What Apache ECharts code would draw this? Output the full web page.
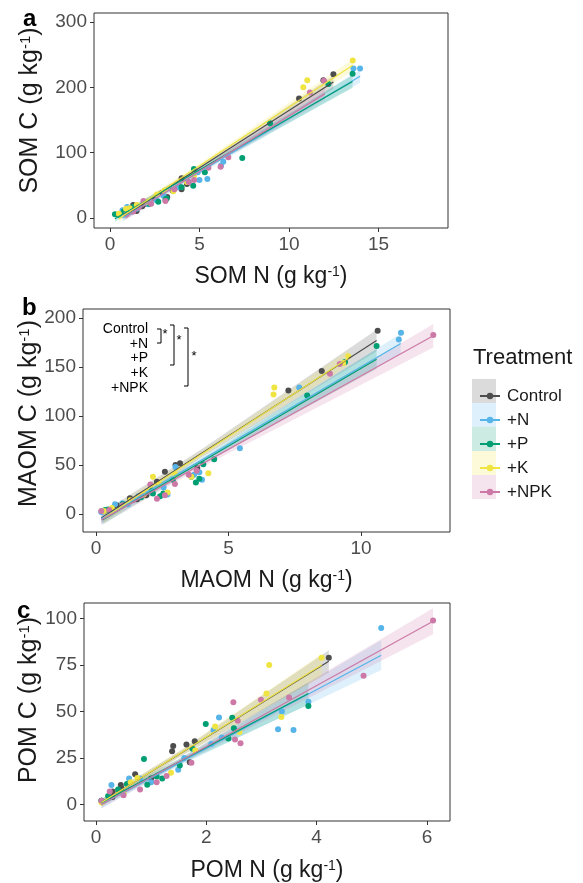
<!DOCTYPE html>
<html><head><meta charset="utf-8">
<script src="https://cdn.jsdelivr.net/npm/echarts@6/dist/echarts.min.js"></script>
<style>html,body{margin:0;padding:0;background:#fff}#c{width:583px;height:883px}</style>
</head><body><div id="c"></div>
<script>
// ---------------- DATA ----------------
const treatments = ['Control', '+N', '+P', '+K', '+NPK'];

// Panel a: SOM N (x) vs SOM C (y)
const somControl = [[0.8,8],[0.93,7],[1.3,20],[1.49,10.7],[1.8,18],[2.0,22],[2.5,30],[2.9,38],[3.2,32],[3.5,42],[3.9,47],[4.0,61],[4.0,44],[4.3,52],[10.56,183],[11.92,211],[12.48,220]];
const somN = [[0.7,12],[0.96,17],[1.2,10],[1.5,14],[2.14,21],[2.6,27],[3.0,34],[3.8,47],[4.4,55],[4.9,70],[5.0,58],[5.44,59.7],[6.2,80],[6.33,86],[13.6,229],[13.97,229]];
const somP = [[0.28,5.6],[0.5,5],[0.77,10],[1.1,12],[1.3,17],[2.2,22],[2.7,25],[3.1,28],[3.17,30],[4.0,47],[4.65,49.5],[4.69,75],[5.3,70],[7.39,91.8],[8.94,145],[12.2,205],[13.55,221]];
const somK = [[0.5,6.6],[0.9,14],[1.1,15],[1.5,20],[2.0,24],[2.62,36],[3.05,42],[3.54,41],[4.3,55],[4.7,65],[10.8,200],[11.02,211],[13.56,241]];
const somNPK = [[0.9,5],[1.3,10],[1.6,16],[1.87,26],[2.3,22],[3.1,26],[3.6,44],[4.4,55],[4.7,58],[5.5,77],[6.18,78.5],[6.61,93],[11.17,192],[11.95,210]];
// fitted line per treatment: [xStart, yStart, xEnd, yEnd]
const somLines = [[0.8,3,12.48,208],[0.7,0,13.97,217],[0.28,-1,13.55,209],[0.5,-1,13.56,234],[0.9,2,12.0,190]];
// confidence band: [xNarrow, halfWidthStart, halfWidthNarrow, halfWidthEnd]
const somBands = [[5,6,3,10],[5,5,3,10],[5,5,3,10],[5,5,3,9],[5,5,3,9]];

// Panel b: MAOM N vs MAOM C
const maomControl = [[0.3,3],[0.5,4],[0.78,9],[1.28,16],[1.55,15],[1.9,19],[2.3,33],[2.6,43],[3.0,50],[3.17,51.7],[3.82,46.6],[7.26,126],[8.52,146],[10.63,187]];
const maomN = [[0.2,2],[0.72,10],[1.0,11],[1.2,10],[1.6,18],[2.55,27],[2.7,20],[3.0,48],[3.7,40],[3.9,42.5],[4.0,35],[5.43,67],[7.67,129],[11.43,178],[11.51,185]];
const maomP = [[0.25,3],[0.35,4],[0.45,4.5],[0.6,5],[1.0,10],[1.7,17],[2.1,24],[2.15,21],[2.42,18],[2.54,21],[2.9,35],[3.6,38],[3.77,32],[3.9,36],[4.05,50.7],[4.46,55.8],[7.97,121],[9.4,155],[10.59,171.4]];
const maomK = [[0.3,3],[0.6,6],[1.3,14],[1.8,20],[2.15,38],[2.4,30],[2.7,22],[3.0,40],[3.6,38],[4.24,41.5],[6.7,122],[6.73,129],[9.33,154],[9.52,161]];
const maomNPK = [[0.2,3],[0.5,4],[1.0,9],[1.4,14],[1.7,19],[2.05,30],[2.3,15.6],[2.6,19],[2.98,30.6],[3.5,40],[3.8,44],[8.83,143],[9.2,153],[12.73,182.6]];
const maomLines = [[0.2,-4,10.59,177],[0.2,-5,11.5,174],[0.25,-6,10.59,158],[0.3,-4,9.52,159],[0.2,-6,12.73,182]];
const maomBands = [[4,5,4,11],[4,5,3,10],[4,5,3,10],[4,5,3,8],[4,5,3,12]];

// Panel c: POM N vs POM C
const pomControl = [[0.1,2],[0.3,4],[0.3,7],[0.46,8.7],[0.45,10.5],[0.71,16.2],[1.0,14],[1.38,28.6],[1.4,31.4],[1.64,32.3],[1.7,22.7],[1.79,34],[4.22,79]];
const pomN = [[0.1,2],[0.28,10.5],[0.6,14],[0.8,14],[1.0,12],[1.49,18.7],[1.6,25],[2.09,32.5],[2.13,40],[2.23,46.8],[2.28,36],[3.3,40.5],[3.37,50],[3.58,40],[3.85,55.3],[5.17,95]];
const pomP = [[0.1,2],[0.22,4.5],[0.4,8],[0.56,11],[0.87,24.5],[0.93,10.6],[1.1,15],[1.2,14],[1.52,21],[1.75,30],[1.99,43.3],[2.4,35.5],[2.47,46.6],[2.5,41],[3.85,53]];
const pomK = [[0.1,1],[0.5,6],[0.63,12],[0.75,14.3],[1.36,17],[1.8,29],[2.16,42],[2.6,39],[3.09,59.7],[3.14,75],[3.36,47],[4.09,79]];
const pomNPK = [[0.1,2],[0.25,7],[0.5,5],[0.8,8],[1.1,12],[1.28,15.3],[1.73,22.4],[2.49,55],[2.52,35],[2.57,45],[2.62,33],[2.99,56.4],[3.5,57.6],[4.85,69.3],[6.11,99]];
const pomLines = [[0.1,1,4.22,77],[0.1,0,5.17,80.3],[0.1,1,3.85,59.7],[0.1,1,4.09,75],[0.1,0,6.11,98.6]];
const pomBands = [[1.5,2,1.5,6],[1.5,2,1.5,8],[1.5,2,1.5,6],[1.5,2,1.5,6],[1.5,2,1.5,7]];

// Axis ticks
const somXTicks = [0,5,10,15], somYTicks = [0,100,200,300];
const maomXTicks = [0,5,10], maomYTicks = [0,50,100,150,200];
const pomXTicks = [0,2,4,6], pomYTicks = [0,25,50,75,100];
const somXRange = [-0.89,18.88], somYRange = [-15.3,313.8];
const maomXRange = [-0.49,13.36], maomYRange = [-18.4,209.2];
const pomXRange = [-0.217,6.417], pomYRange = [-8.9,108.4];

// ---------------- STYLE ----------------
const colors = ['#4D4D4D','#56B4E9','#009E73','#F0E442','#CC79A7'];
const bandColors = ['rgba(77,77,77,0.2)','rgba(86,180,233,0.2)','rgba(0,158,115,0.2)','rgba(240,228,66,0.2)','rgba(204,121,167,0.2)'];
const FONT = "'Liberation Sans', Arial, sans-serif";

const panels = [
  {pts:[somControl,somN,somP,somK,somNPK], lines:somLines, bands:somBands, xt:somXTicks, yt:somYTicks, xr:somXRange, yr:somYRange,
   xname:'SOM N (g kg', yname:'SOM C (g kg', grid:{left:94,top:13,width:354,height:215}, xgap:37, ygap:51, yshift:20},
  {pts:[maomControl,maomN,maomP,maomK,maomNPK], lines:maomLines, bands:maomBands, xt:maomXTicks, yt:maomYTicks, xr:maomXRange, yr:maomYRange,
   xname:'MAOM N (g kg', yname:'MAOM C (g kg', grid:{left:83,top:309,width:367,height:223}, xgap:37, ygap:41, yshift:14},
  {pts:[pomControl,pomN,pomP,pomK,pomNPK], lines:pomLines, bands:pomBands, xt:pomXTicks, yt:pomYTicks, xr:pomXRange, yr:pomYRange,
   xname:'POM N (g kg', yname:'POM C (g kg', grid:{left:84,top:603,width:366,height:224}, xgap:38, ygap:42, yshift:24}
];

const xRich = {
  t:{fontSize:23, color:'#1a1a1a', fontFamily:FONT},
  s:{fontSize:14, color:'#1a1a1a', fontFamily:FONT, verticalAlign:'top'}
};

const grids = [], xAxes = [], yAxes = [], series = [];
panels.forEach((p, i) => {
  grids.push(Object.assign({show:true, borderColor:'#333', borderWidth:1, containLabel:false}, p.grid));
  const common = {
    type:'value', gridIndex:i, nameLocation:'middle', nameMoveOverlap:false,
    axisLine:{show:false, onZero:false}, splitLine:{show:false},
    axisTick:{show:true, length:4, inside:false, lineStyle:{color:'#333', width:1}},
    axisLabel:{color:'#4D4D4D', fontSize:19, fontFamily:FONT, margin:7, showMinLabel:true, showMaxLabel:true}
  };
  const yRich = {
    f:{fontSize:25, color:'#1a1a1a', fontFamily:FONT, padding:[0,0,0,p.yshift]},
    t:{fontSize:25, color:'#1a1a1a', fontFamily:FONT},
    s:{fontSize:15, color:'#1a1a1a', fontFamily:FONT, verticalAlign:'top'}
  };
  xAxes.push(Object.assign({}, common, {
    min:p.xr[0], max:p.xr[1], name:'{t|'+p.xname+'}{s|-1}{t|)}', nameGap:p.xgap,
    nameTextStyle:{rich:xRich},
    axisTick:Object.assign({}, common.axisTick, {customValues:p.xt}),
    axisLabel:Object.assign({}, common.axisLabel, {customValues:p.xt})
  }));
  yAxes.push(Object.assign({}, common, {
    min:p.yr[0], max:p.yr[1], name:'{f|'+p.yname+'}{s|-1}{t|)}', nameGap:p.ygap, nameRotate:90,
    nameTextStyle:{rich:yRich},
    axisTick:Object.assign({}, common.axisTick, {customValues:p.yt}),
    axisLabel:Object.assign({}, common.axisLabel, {customValues:p.yt})
  }));
});

// fitted lines first (used by legend icons)
panels.forEach((p, i) => {
  treatments.forEach((t, k) => {
    const L = p.lines[k];
    series.push({
      type:'line', name:t, xAxisIndex:i, yAxisIndex:i, data:[[L[0],L[1]],[L[2],L[3]]],
      symbol:'circle', showSymbol:false, symbolSize:6, z:5,
      lineStyle:{color:colors[k], width:1.2}, itemStyle:{color:colors[k]},
      silent:true, animation:false
    });
  });
});
// bands
panels.forEach((p, i) => {
  treatments.forEach((t, k) => {
    const L = p.lines[k], B = p.bands[k];
    series.push({
      type:'custom', name:t, xAxisIndex:i, yAxisIndex:i, z:3, clip:true, silent:true, animation:false,
      data:[[L[0],L[1],L[2],L[3],B[0],B[1],B[2],B[3]]],
      encode:{x:[0,2], y:[1,3]},
      renderItem:(params, api) => {
        const x0=api.value(0), y0=api.value(1), x1=api.value(2), y1=api.value(3);
        const xm=api.value(4), w0=api.value(5), wm=api.value(6), w1=api.value(7);
        const ym = y0 + (y1 - y0) * (xm - x0) / (x1 - x0);
        const pts = [[x0,y0+w0],[xm,ym+wm],[x1,y1+w1],[x1,y1-w1],[xm,ym-wm],[x0,y0-w0]].map(q => api.coord(q));
        return {type:'polygon', shape:{points:pts}, style:{fill:bandColors[k]}};
      }
    });
  });
});
// points
panels.forEach((p, i) => {
  treatments.forEach((t, k) => {
    series.push({
      type:'scatter', name:t, xAxisIndex:i, yAxisIndex:i, data:p.pts[k],
      symbol:'circle', symbolSize:6, z:4, itemStyle:{color:colors[k], opacity:1}, animation:false
    });
  });
});

const graphic = [];
// panel letters
[['a',23,19],['b',22,308],['c',17,611]].forEach(([s,x,y]) => graphic.push({type:'text', left:x, top:y-12,
  style:{text:s, font:'bold 24px '+FONT, fill:'#000'}}));
// legend title and key backgrounds
graphic.push({type:'text', left:473, top:347, style:{text:'Treatment', font:'22px '+FONT, fill:'#1a1a1a'}});
treatments.forEach((t,k) => graphic.push({type:'rect', shape:{x:472, y:379+24*k, width:24, height:24}, style:{fill:bandColors[k]}, z:-1}));
// significance annotation in panel b
graphic.push({type:'text', x:148, y:322, style:{text:treatments.join('\n'), font:'14px '+FONT, fill:'#000', align:'right', verticalAlign:'top', lineHeight:14.6}});
const bracket = (x0,x1,ya,yb) => ({type:'polyline', shape:{points:[[x0,ya],[x1,ya],[x1,yb],[x0,yb]]}, style:{stroke:'#000', lineWidth:1, fill:null}});
graphic.push(bracket(157,161,329,343));
graphic.push(bracket(170,174,325,365));
graphic.push(bracket(184,188,328,386));
[[165,334],[179,340],[194,356]].forEach(([x,y]) => graphic.push({type:'text', x:x, y:y, style:{text:'*', font:'13px '+FONT, fill:'#000', align:'center', verticalAlign:'middle'}}));

const chart = echarts.init(document.getElementById('c'), null, {renderer:'canvas'});
chart.setOption({
  animation:false,
  textStyle:{fontFamily:FONT},
  grid:grids, xAxis:xAxes, yAxis:yAxes, series:series, graphic:graphic,
  legend:{
    data:treatments, orient:'vertical', left:474, top:379, itemWidth:20, itemHeight:8, itemGap:0,
    textStyle:{fontSize:17, color:'#1a1a1a', fontFamily:FONT, lineHeight:24, padding:[0,0,0,2]},
    selectedMode:false
  }
});
</script></body></html>
